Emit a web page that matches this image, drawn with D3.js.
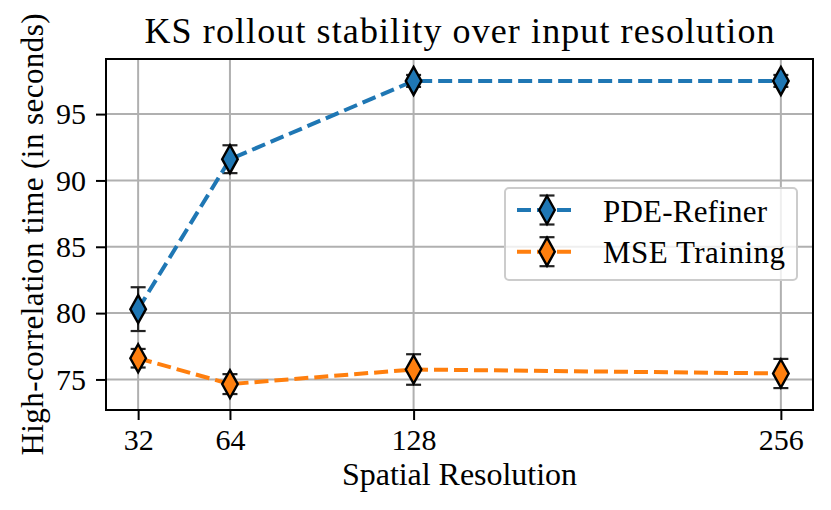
<!DOCTYPE html>
<html>
<head>
<meta charset="utf-8">
<script src="https://cdn.jsdelivr.net/npm/d3@7/dist/d3.min.js"></script>
<style>
    body { margin: 0; background: #fff; }
    svg { display: block; }
    text { font-family: "Liberation Serif", "DejaVu Serif", serif; fill: #000; }
</style>
</head>
<body>
<svg class="chart" width="831" height="510"></svg>
<script>

// DATA ========================================================================

var resolutions = [32, 64, 128, 256],
    xTickLabels = ['32', '64', '128', '256'],
    yTicks = [75, 80, 85, 90, 95];

var pdeRefinerMean = [80.3, 91.6, 97.5, 97.5],
    pdeRefinerErr = [1.65, 1.05, 0.45, 0.45],
    mseMean = [76.6, 74.65, 75.75, 75.45],
    mseErr = [0.7, 0.75, 1.15, 1.1];

var seriesNames = ['PDE-Refiner', 'MSE Training'],
    seriesColors = ['#1f77b4', '#ff7f0e'];

// CHART =======================================================================

var svg = d3.select('.chart'),
    margin = {top: 59, right: 18, bottom: 100, left: 106},
    width = +svg.attr('width') - margin.left - margin.right,
    height = +svg.attr('height') - margin.top - margin.bottom,
    g = svg.append('g').attr(
        'transform',
        'translate(' + margin.left + ',' + margin.top + ')');

var series = seriesNames.map(function(name, i) {
    var means = i === 0 ? pdeRefinerMean : mseMean,
        errs = i === 0 ? pdeRefinerErr : mseErr;
    return {
        name: name,
        color: seriesColors[i],
        points: resolutions.map(function(r, j) {
            return {x: r, y: means[j], err: errs[j]};
        })
    };
});

// matplotlib style 5% padding around the data (error bars included)
function padded(lo, hi) {
    var p = (hi - lo) * 0.05;
    return [lo - p, hi + p];
}
var allPts = d3.merge(series.map(function(s) { return s.points; }));

var x = d3.scaleLinear()
    .domain(padded(d3.min(resolutions), d3.max(resolutions)))
    .range([0, width]);
var y = d3.scaleLinear()
    .domain(padded(
        d3.min(allPts, function(d) { return d.y - d.err; }),
        d3.max(allPts, function(d) { return d.y + d.err; })))
    .range([height, 0]);

// grid
g.append('g')
    .selectAll('line')
    .data(resolutions)
    .enter().append('line')
        .attr('x1', function(d) { return x(d); })
        .attr('x2', function(d) { return x(d); })
        .attr('y1', 0)
        .attr('y2', height)
        .attr('stroke', '#b0b0b0')
        .attr('stroke-width', 2);
g.append('g')
    .selectAll('line')
    .data(yTicks)
    .enter().append('line')
        .attr('x1', 0)
        .attr('x2', width)
        .attr('y1', function(d) { return y(d); })
        .attr('y2', function(d) { return y(d); })
        .attr('stroke', '#b0b0b0')
        .attr('stroke-width', 2);

// axes
var xAxis = g.append('g')
    .attr('transform', 'translate(0,' + height + ')')
    .call(d3.axisBottom(x)
        .tickValues(resolutions)
        .tickFormat(function(d, i) { return xTickLabels[i]; })
        .tickSize(10)
        .tickPadding(9));
var yAxis = g.append('g')
    .call(d3.axisLeft(y)
        .tickValues(yTicks)
        .tickSize(10)
        .tickPadding(10));

[xAxis, yAxis].forEach(function(ax) {
    ax.select('.domain').remove();
    ax.selectAll('.tick line').attr('stroke', '#000').attr('stroke-width', 2);
    ax.selectAll('.tick text')
        .attr('font-family', '"Liberation Serif", serif')
        .attr('font-size', 30)
        .attr('fill', '#000');
});

var diamond = 'M0,-14L7.8,0L0,14L-7.8,0Z',
    capHalf = 7.5;

// error bars first, then lines and markers on top
series.forEach(function(s) {
    var eb = g.append('g').attr('class', 'errbars');
    var pts = eb.selectAll('g').data(s.points).enter().append('g');
    pts.append('line')
        .attr('x1', function(d) { return x(d.x); })
        .attr('x2', function(d) { return x(d.x); })
        .attr('y1', function(d) { return y(d.y - d.err); })
        .attr('y2', function(d) { return y(d.y + d.err); });
    [-1, 1].forEach(function(sign) {
        pts.append('line')
            .attr('x1', function(d) { return x(d.x) - capHalf; })
            .attr('x2', function(d) { return x(d.x) + capHalf; })
            .attr('y1', function(d) { return y(d.y + sign * d.err); })
            .attr('y2', function(d) { return y(d.y + sign * d.err); });
    });
    eb.selectAll('line').attr('stroke', '#222').attr('stroke-width', 2.2);
});

var line = d3.line()
    .x(function(d) { return x(d.x); })
    .y(function(d) { return y(d.y); });

series.forEach(function(s) {
    g.append('path')
        .datum(s.points)
        .attr('fill', 'none')
        .attr('stroke', s.color)
        .attr('stroke-width', 4)
        .attr('stroke-dasharray', '14,6')
        .attr('d', line);
    g.append('g')
        .selectAll('path')
        .data(s.points)
        .enter().append('path')
            .attr('transform', function(d) {
                return 'translate(' + x(d.x) + ',' + y(d.y) + ')';
            })
            .attr('d', diamond)
            .attr('fill', s.color)
            .attr('stroke', '#000')
            .attr('stroke-width', 2.4)
            .attr('stroke-linejoin', 'miter');
});

// frame
g.append('rect')
    .attr('width', width)
    .attr('height', height)
    .attr('fill', 'none')
    .attr('stroke', '#000')
    .attr('stroke-width', 2);

// LEGEND ======================================================================

var legend = g.append('g')
    .attr('transform', 'translate(' + (505 - margin.left) + ',' + (188 - margin.top) + ')');

legend.append('rect')
    .attr('width', 292)
    .attr('height', 92)
    .attr('rx', 4)
    .attr('fill', '#fff')
    .attr('fill-opacity', 0.8)
    .attr('stroke', '#cccccc')
    .attr('stroke-width', 2);

var row = legend.selectAll('.row')
    .data(series)
    .enter().append('g')
        .attr('class', 'row')
        .attr('transform', function(d, i) {
            return 'translate(0,' + (22 + i * 41.7) + ')';
        });

row.append('line')
    .attr('x1', 12).attr('x2', 72)
    .attr('stroke', function(d) { return d.color; })
    .attr('stroke-width', 4)
    .attr('stroke-dasharray', '14,6');
row.append('line')
    .attr('x1', 42).attr('x2', 42)
    .attr('y1', -14.5).attr('y2', 14.5);
row.append('line')
    .attr('x1', 42 - capHalf).attr('x2', 42 + capHalf)
    .attr('y1', -14.5).attr('y2', -14.5);
row.append('line')
    .attr('x1', 42 - capHalf).attr('x2', 42 + capHalf)
    .attr('y1', 14.5).attr('y2', 14.5);
row.selectAll('line').filter(function(d, i) { return i > 0; })
    .attr('stroke', '#222').attr('stroke-width', 2.2);
row.append('path')
    .attr('transform', 'translate(42,0)')
    .attr('d', diamond)
    .attr('fill', function(d) { return d.color; })
    .attr('stroke', '#000')
    .attr('stroke-width', 2.4);
row.append('text')
    .attr('x', 98)
    .attr('y', 11.5)
    .attr('font-size', 31)
    .attr('textLength', function(d, i) { return i === 0 ? 164 : 182; })
    .attr('lengthAdjust', 'spacing')
    .text(function(d) { return d.name; });

// LABELS ======================================================================

svg.append('text')
    .attr('x', margin.left + width / 2)
    .attr('y', 43)
    .attr('text-anchor', 'middle')
    .attr('font-size', 36)
    .attr('textLength', 630)
    .attr('lengthAdjust', 'spacing')
    .text('KS rollout stability over input resolution');

svg.append('text')
    .attr('x', margin.left + width / 2)
    .attr('y', 485)
    .attr('text-anchor', 'middle')
    .attr('font-size', 32)
    .attr('textLength', 235)
    .attr('lengthAdjust', 'spacing')
    .text('Spatial Resolution');

svg.append('text')
    .attr('transform', 'translate(43,' + (margin.top + height / 2) + ') rotate(-90)')
    .attr('text-anchor', 'middle')
    .attr('font-size', 31)
    .attr('textLength', 442)
    .attr('lengthAdjust', 'spacing')
    .text('High-correlation time (in seconds)');

</script>
</body>
</html>
